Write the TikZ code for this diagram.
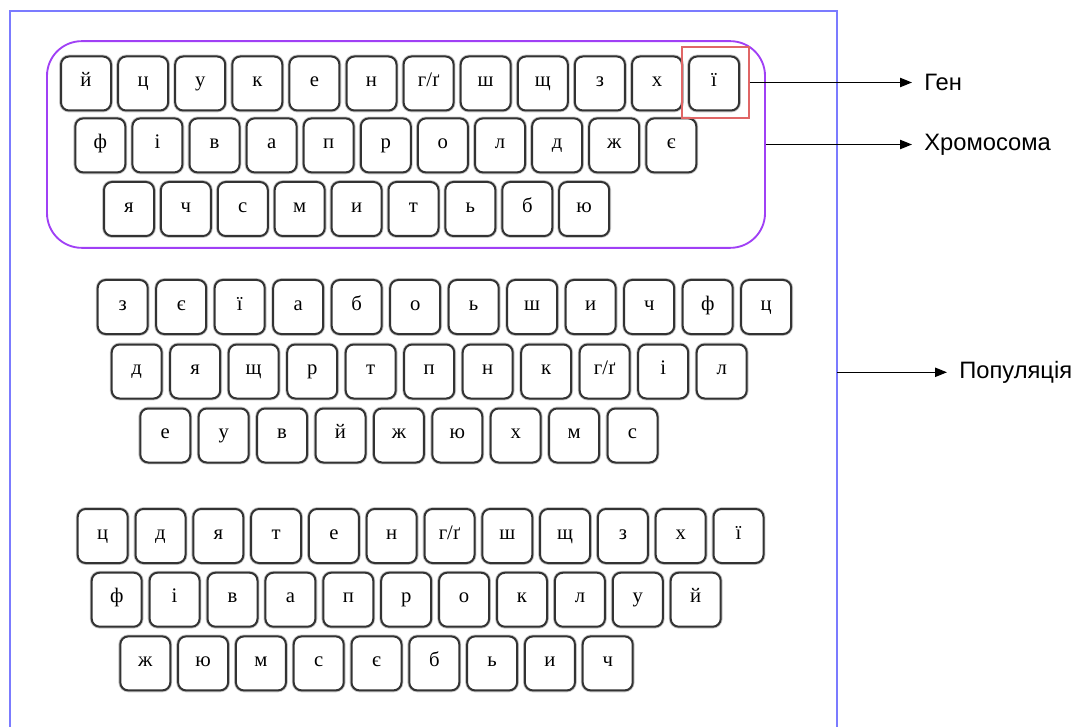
\documentclass[tikz,border=0pt]{standalone}
\usepackage{fontspec}
\setmainfont{Liberation Serif}
\newfontfamily\labelfont{Liberation Sans}
\usetikzlibrary{arrows.meta,positioning,calc}
\definecolor{keyline}{HTML}{333333}
\definecolor{chromline}{HTML}{A040F5}
\definecolor{geneline}{HTML}{E06666}
\definecolor{popline}{HTML}{7B7BFF}

\tikzset{
  key/.style={draw=keyline, line width=1.5pt, rounded corners=6pt, fill=white,
    minimum width=37.5pt, minimum height=40.5pt, inner sep=0pt,
    text height=1ex, text depth=0pt,
    font=\fontsize{15.5}{15.5}\selectfont,
    preaction={draw=black!22, line width=2.8pt}},
  chromosome/.style={draw=chromline, line width=1.4pt, rounded corners=26pt,
    minimum width=538.5pt, minimum height=155pt},
  gene/.style={draw=geneline, line width=1.1pt, minimum width=50pt, minimum height=53pt},
  lbl/.style={anchor=west, inner xsep=9pt, font=\labelfont\fontsize{17.8}{17.8}\selectfont},
  conn/.style={line width=0.8pt, -{Triangle[length=9pt,width=7pt]}}
}

% one row of keys: name, first centre x, centre y, pitch, letters
\newcommand{\keyrow}[5]{%
  \foreach \ch [count=\i] in {#5} {
    \pgfmathsetmacro{\x}{#2+(\i-1)*#4}
    \node[key] (#1-\i) at (\x,#3) {\ch};
  }}

\begin{document}
\begin{tikzpicture}[x=0.75pt, y=-0.75pt]
  \useasboundingbox (0,0) rectangle (1074,727);

  % population frame (bottom edge runs off the page)
  \node[minimum width=620pt, minimum height=541pt] (pop) at (423.5,372.3) {};
  \draw[popline, line width=1.3pt] (pop.south west) -- (pop.north west) -- (pop.north east) -- (pop.south east);

  % chromosome 1
  \node[chromosome] (chrom) at (406,144.5) {};
  \keyrow{a1}{86}{83.5}{57.1}{й,ц,у,к,е,н,{г/ґ},ш,щ,з,х,ї}
  \keyrow{a2}{100.3}{145.4}{57.1}{ф,і,в,а,п,р,о,л,д,ж,є}
  \keyrow{a3}{129}{209}{56.9}{я,ч,с,м,и,т,ь,б,ю}
  \node[gene] (gene) at (715.5,82.5) {};

  % chromosome 2
  \keyrow{b1}{122.7}{307}{58.5}{з,є,ї,а,б,о,ь,ш,и,ч,ф,ц}
  \keyrow{b2}{136.7}{371.5}{58.5}{д,я,щ,р,т,п,н,к,{г/ґ},і,л}
  \keyrow{b3}{165.3}{435.5}{58.4}{е,у,в,й,ж,ю,х,м,с}

  % chromosome 3
  \keyrow{c1}{102.7}{536}{57.8}{ц,д,я,т,е,н,{г/ґ},ш,щ,з,х,ї}
  \keyrow{c2}{116.7}{599.7}{57.9}{ф,і,в,а,п,р,о,к,л,у,й}
  \keyrow{c3}{145.3}{663.4}{57.8}{ж,ю,м,с,є,б,ь,и,ч}

  % labels
  \node[lbl] (genlbl) at (912,82.5) {Ген};
  \node[lbl] (chromlbl) at (912,144.5) {Хромосома};
  \node[lbl] (poplbl) at (947,372.3) {Популяція};
  \draw[conn] (gene.east) -- (genlbl.west);
  \draw[conn] (chrom.east) -- (chromlbl.west);
  \draw[conn] (pop.east) -- (poplbl.west);
\end{tikzpicture}
\end{document}
